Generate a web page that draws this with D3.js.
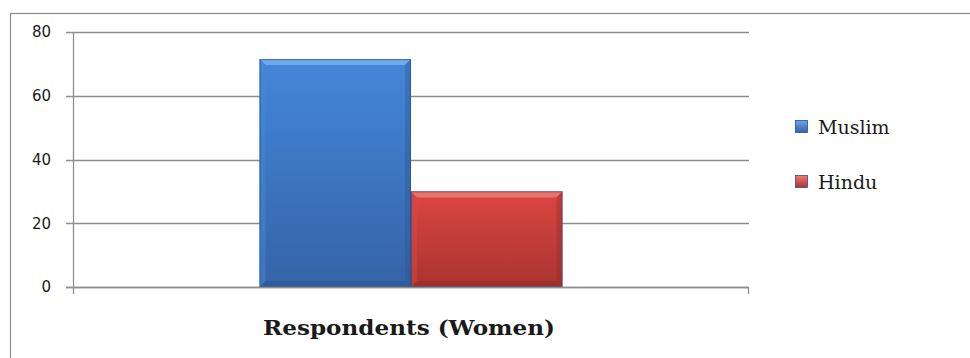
<!DOCTYPE html>
<html>
<head>
<meta charset="utf-8">
<script src="https://cdn.jsdelivr.net/npm/d3@7"></script>
<style>
  html, body { margin: 0; padding: 0; background: #fff; }
  svg { display: block; }
</style>
</head>
<body>
<svg id="chart" width="970" height="358"></svg>
<script>
// Chart data
const categories = ["Respondents (Women)"];
const seriesNames = ["Muslim", "Hindu"];
const seriesValues = [[71.5], [30]];
const yTicks = [0, 20, 40, 60, 80];

// Colour palette per series
const palette = {
  Muslim: { top: "#6aa4ec", a: "#4487da", b: "#3563a6", edge: "#2e4f8c", light: "#7db3f2", dark: "#2b528f" },
  Hindu:  { top: "#f07a74", a: "#dc4641", b: "#a93431", edge: "#3d4a86", light: "#f2837c", dark: "#8f2b29" }
};

const svg = d3.select("#chart");
const plot = { left: 73, right: 749, top: 32, bottom: 287 };

// Outer chart frame (runs past the visible area on the right and bottom)
svg.append("rect")
  .attr("x", 10.5).attr("y", 13.5)
  .attr("width", 1200).attr("height", 600)
  .attr("fill", "none").attr("stroke", "#8c8c8c").attr("stroke-width", 1.2);

const y = d3.scaleLinear().domain([0, 80]).range([plot.bottom, plot.top]);
const x0 = d3.scaleBand().domain(categories).range([plot.left, plot.right]).padding(0);

const groupFrac = 0.448;
const defs = svg.append("defs");

// Gridlines with small outside ticks
svg.append("g").selectAll("line").data(yTicks).join("line")
  .attr("x1", plot.left - 7).attr("x2", plot.right)
  .attr("y1", d => Math.round(y(d)) + 0.5).attr("y2", d => Math.round(y(d)) + 0.5)
  .attr("stroke", "#8e8e8e").attr("stroke-width", 1.3);

// Y axis line
svg.append("line")
  .attr("x1", plot.left + 0.5).attr("x2", plot.left + 0.5)
  .attr("y1", plot.top).attr("y2", plot.bottom + 7)
  .attr("stroke", "#8e8e8e").attr("stroke-width", 1.3);
// Category axis end tick
svg.append("line")
  .attr("x1", plot.right - 0.5).attr("x2", plot.right - 0.5)
  .attr("y1", plot.bottom).attr("y2", plot.bottom + 7)
  .attr("stroke", "#8e8e8e").attr("stroke-width", 1.3);

// Y tick labels
svg.append("g").selectAll("text").data(yTicks).join("text")
  .attr("x", 51).attr("y", d => y(d))
  .attr("dy", "0.36em")
  .attr("text-anchor", "end")
  .attr("font-family", "DejaVu Sans, Verdana, sans-serif")
  .attr("font-size", 15)
  .attr("fill", "#1a1a1a")
  .text(d => d);

// Bars with bevelled edges
categories.forEach((cat, ci) => {
  const cx = x0(cat) + x0.bandwidth() / 2;
  const gw = x0.bandwidth() * groupFrac;
  const x1 = d3.scaleBand().domain(seriesNames).range([cx - gw / 2, cx + gw / 2]).padding(0);
  seriesNames.forEach((s, si) => {
    const v = seriesValues[si][ci];
    const c = palette[s];
    const bx = x1(s), bw = x1.bandwidth();
    const by = y(v), bh = y(0) - y(v);
    const gid = "grad-" + s;
    const lg = defs.append("linearGradient").attr("id", gid)
      .attr("x1", 0).attr("y1", 0).attr("x2", 0).attr("y2", 1);
    lg.append("stop").attr("offset", "0%").attr("stop-color", c.a);
    lg.append("stop").attr("offset", "100%").attr("stop-color", c.b);

    const g = svg.append("g");
    g.append("rect").attr("x", bx).attr("y", by).attr("width", bw).attr("height", bh)
      .attr("fill", `url(#${gid})`);
    const e = 6;
    g.append("polygon")
      .attr("points", [[bx, by], [bx + bw, by], [bx + bw - e, by + e], [bx + e, by + e]].join(" "))
      .attr("fill", c.light).attr("opacity", 0.75);
    g.append("polygon")
      .attr("points", [[bx, by], [bx + e, by + e], [bx + e, by + bh - e], [bx, by + bh]].join(" "))
      .attr("fill", c.a).attr("opacity", 0.5);
    g.append("polygon")
      .attr("points", [[bx + bw, by], [bx + bw, by + bh], [bx + bw - e, by + bh - e], [bx + bw - e, by + e]].join(" "))
      .attr("fill", c.dark).attr("opacity", 0.35);
    g.append("polygon")
      .attr("points", [[bx, by + bh], [bx + e, by + bh - e], [bx + bw - e, by + bh - e], [bx + bw, by + bh]].join(" "))
      .attr("fill", c.dark).attr("opacity", 0.45);
    g.append("rect").attr("x", bx + 0.5).attr("y", by + 0.5).attr("width", bw - 1).attr("height", bh - 1)
      .attr("fill", "none").attr("stroke", c.edge).attr("stroke-width", 1).attr("opacity", 0.7);
  });
});

// Zero axis line drawn over bars
svg.append("line")
  .attr("x1", plot.left - 7).attr("x2", plot.right)
  .attr("y1", Math.round(y(0)) + 0.5).attr("y2", Math.round(y(0)) + 0.5)
  .attr("stroke", "#8e8e8e").attr("stroke-width", 1.3);

// Category label
svg.append("g").selectAll("text").data(categories).join("text")
  .attr("x", d => x0(d) + x0.bandwidth() / 2 - 2)
  .attr("y", 335)
  .attr("text-anchor", "middle")
  .attr("font-family", "DejaVu Serif, serif")
  .attr("font-weight", "bold")
  .attr("font-size", 20)
  .attr("textLength", 292)
  .attr("lengthAdjust", "spacingAndGlyphs")
  .attr("fill", "#1a1a1a")
  .text(d => d);

// Legend
const legend = svg.append("g");
seriesNames.forEach((s, i) => {
  const ly = 127 + i * 55;
  const c = palette[s];
  const lid = "lg-" + s;
  const lg = defs.append("linearGradient").attr("id", lid)
    .attr("x1", 0).attr("y1", 0).attr("x2", 0).attr("y2", 1);
  lg.append("stop").attr("offset", "0%").attr("stop-color", c.top);
  lg.append("stop").attr("offset", "100%").attr("stop-color", c.b);
  legend.append("rect").attr("x", 795.5).attr("y", ly - 6.5).attr("width", 12).attr("height", 12)
    .attr("fill", `url(#${lid})`).attr("stroke", c.edge).attr("stroke-width", 0.8);
  legend.append("text").attr("x", 818).attr("y", ly).attr("dy", "0.35em")
    .attr("font-family", "DejaVu Serif, serif")
    .attr("font-size", 19)
    .attr("fill", "#1a1a1a")
    .text(s);
});
</script>
</body>
</html>
